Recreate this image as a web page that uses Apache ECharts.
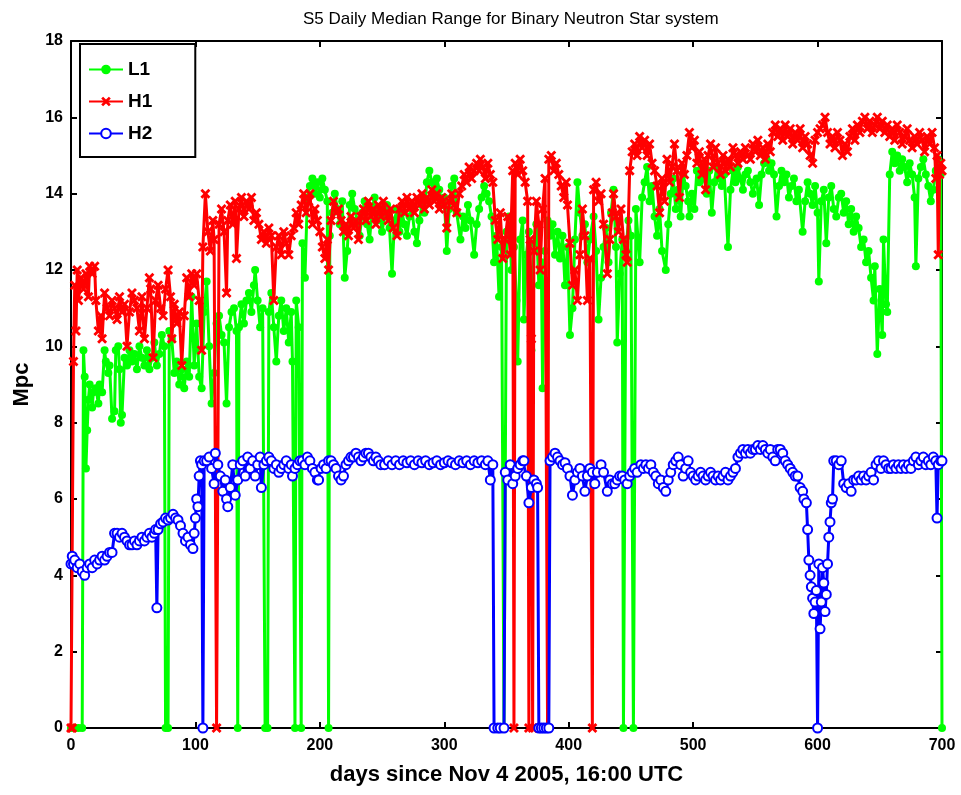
<!DOCTYPE html>
<html>
<head>
<meta charset="utf-8">
<title>S5 Daily Median Range</title>
<script src="https://cdn.jsdelivr.net/npm/echarts@6/dist/echarts.min.js"></script>
<style>
  html, body { margin: 0; padding: 0; background: #fff; }
  #chart { width: 961px; height: 795px; }
</style>
</head>
<body>
<div id="chart"></div>
<script>
// [day, Mpc]; 0 marks days with no data
const l1Data = [
  [0,0],[3,0],[6,0],[9,0],[10,9.9],[11,9.2],[12,6.8],[13,7.8],[14,8.6],[15,9.0],[17,8.4],[18,8.8],[20,8.9],[22,8.5],[23,9.0],[25,8.8],[27,9.9],[28,9.6],[30,9.3],[31,9.5],[33,8.1],[35,8.3],[36,9.9],[38,10.0],[39,9.4],[40,8.0],[41,8.2],[43,9.7],[45,9.5],[47,9.9],[49,9.6],[51,9.8],[53,9.4],[55,10.0],[57,9.7],[59,9.5],[61,9.9],[63,9.4],[65,9.7],[67,10.1],[69,9.5],[71,9.8],[73,10.3],[75,10.0],[76,0],[78,0],[79,10.4],[81,10.2],[83,9.3],[85,9.6],[87,9.0],[89,9.4],[91,8.9],[93,9.6],[95,9.2],[97,11.3],[99,9.5],[101,10.6],[103,9.2],[105,8.9],[107,10.9],[109,11.7],[111,10.0],[113,8.5],[115,9.3],[117,10.6],[119,10.8],[121,10.3],[123,10.1],[125,8.5],[127,10.5],[129,10.9],[131,11.0],[133,10.4],[134,0],[135,10.5],[137,11.1],[139,10.6],[141,11.2],[143,11.4],[145,10.9],[147,11.6],[148,12.0],[150,11.2],[152,10.5],[154,11.0],[156,0],[158,0],[159,10.9],[161,11.4],[163,10.5],[165,9.6],[167,10.8],[169,11.2],[171,10.4],[173,11.0],[175,10.1],[177,10.9],[178,9.6],[180,0],[181,11.2],[183,10.5],[185,0],[186,12.7],[188,11.8],[190,13.9],[192,14.2],[194,14.4],[196,14.0],[198,14.3],[200,13.9],[202,14.4],[204,14.1],[206,13.8],[207,0],[208,12.9],[210,13.5],[212,14.0],[214,13.6],[216,13.2],[218,13.8],[220,11.8],[222,12.5],[224,13.7],[226,14.0],[228,13.6],[230,13.3],[232,12.9],[234,13.5],[236,13.8],[238,13.2],[240,12.8],[242,13.6],[244,13.9],[246,13.3],[248,13.6],[250,13.0],[252,13.4],[254,13.7],[256,13.1],[258,11.9],[260,13.3],[262,13.6],[264,13.0],[266,13.5],[268,13.2],[270,12.9],[272,13.4],[274,13.6],[276,13.0],[278,12.7],[280,13.3],[282,13.7],[284,13.5],[286,14.3],[288,14.6],[290,14.3],[292,13.9],[294,14.4],[296,14.1],[298,13.7],[300,13.9],[302,12.5],[304,13.6],[306,14.2],[308,14.4],[310,13.5],[313,12.8],[315,13.4],[317,13.1],[319,13.7],[321,13.3],[324,12.4],[326,13.2],[328,13.6],[330,13.9],[332,14.2],[334,14.0],[336,13.8],[338,13.4],[340,12.2],[342,12.9],[344,11.3],[346,12.6],[348,0],[350,13.0],[352,13.4],[354,12.0],[356,12.6],[358,11.2],[359,9.6],[361,12.8],[363,13.3],[364,10.7],[366,12.4],[368,13.0],[370,9.9],[372,12.7],[374,13.2],[376,11.6],[378,12.2],[379,8.9],[381,12.5],[383,13.3],[385,12.9],[387,13.2],[389,12.4],[391,13.0],[393,12.3],[395,12.9],[397,11.6],[399,12.6],[401,10.3],[403,11.0],[405,12.8],[407,14.3],[409,13.5],[411,12.9],[413,13.2],[415,12.2],[417,12.8],[420,13.4],[422,12.5],[424,10.7],[426,11.8],[428,12.6],[430,13.1],[432,12.2],[434,13.5],[436,14.1],[438,12.6],[439,10.1],[441,11.9],[443,12.8],[444,0],[446,12.5],[448,13.3],[450,12.9],[452,0],[454,13.6],[457,12.2],[459,13.9],[461,14.3],[463,14.7],[465,13.8],[467,14.2],[469,13.4],[471,12.9],[473,13.6],[475,12.5],[478,12.0],[480,13.2],[482,14.0],[484,14.4],[486,13.6],[488,14.1],[490,13.4],[492,14.5],[494,14.2],[496,13.8],[497,13.4],[499,14.0],[501,13.6],[503,14.6],[505,14.3],[507,14.7],[509,14.4],[511,14.0],[513,14.6],[515,13.5],[517,14.3],[519,14.7],[521,14.4],[523,14.2],[525,14.5],[528,12.6],[530,14.1],[532,14.6],[534,14.3],[536,14.7],[538,14.4],[540,14.1],[542,14.5],[544,14.6],[546,14.3],[548,14.0],[551,14.4],[553,13.7],[555,14.5],[557,14.8],[559,14.9],[561,14.6],[563,14.8],[565,14.5],[567,13.4],[569,14.2],[571,14.6],[573,14.3],[575,14.5],[577,13.9],[579,14.2],[581,14.4],[583,13.8],[585,14.1],[588,13.0],[590,13.8],[592,14.3],[594,14.0],[596,13.7],[598,14.2],[600,13.5],[601,11.7],[603,13.8],[605,14.1],[607,12.7],[609,13.9],[611,14.2],[613,13.6],[615,13.4],[617,13.9],[619,14.0],[621,13.5],[623,13.8],[625,13.2],[627,13.6],[629,13.0],[631,13.4],[633,13.1],[635,12.6],[637,12.8],[639,12.2],[641,12.5],[643,11.8],[645,11.2],[646,12.1],[648,9.8],[650,11.5],[652,10.3],[653,12.8],[655,11.1],[656,10.9],[658,14.5],[660,15.1],[662,14.8],[664,15.0],[666,14.6],[668,14.9],[670,14.7],[672,14.3],[674,14.8],[676,14.5],[678,13.9],[679,12.1],[681,14.4],[683,14.7],[685,14.9],[687,14.5],[689,14.2],[691,13.8],[693,14.1],[695,14.6],[697,14.9],[699,14.5],[700,0]
];

const h1Data = [
  [0,0],[1,0],[2,9.6],[3,11.6],[4,10.4],[5,12.0],[6,11.2],[8,11.8],[10,11.5],[12,11.9],[14,11.3],[15,12.1],[17,11.9],[19,12.1],[20,11.2],[22,10.4],[24,10.8],[25,10.2],[27,11.4],[29,11.0],[31,10.8],[33,11.2],[35,11.0],[37,10.7],[39,11.3],[41,10.9],[43,11.1],[45,10.0],[47,10.9],[49,11.4],[51,11.2],[53,11.0],[55,10.4],[57,11.3],[59,10.2],[61,11.0],[63,11.8],[64,11.5],[66,9.7],[68,11.2],[70,11.6],[72,11.0],[74,10.8],[76,11.5],[78,12.0],[80,11.3],[81,10.2],[83,11.1],[85,10.6],[87,10.9],[89,9.5],[91,10.8],[93,11.8],[95,11.3],[97,11.9],[99,11.6],[101,11.9],[103,11.2],[105,9.9],[106,12.6],[108,14.0],[110,13.0],[112,12.5],[114,13.3],[115,12.8],[117,0],[119,13.2],[121,13.6],[123,13.0],[125,11.4],[126,13.3],[128,13.7],[130,13.2],[132,13.8],[133,12.3],[135,13.6],[137,13.9],[139,13.4],[141,13.8],[143,13.6],[145,13.9],[147,13.3],[149,13.5],[151,13.2],[153,12.8],[155,13.0],[157,12.7],[159,13.1],[161,12.9],[163,11.2],[165,12.6],[167,12.9],[169,12.4],[171,13.0],[173,12.7],[175,12.4],[177,12.9],[179,13.1],[181,13.5],[183,13.2],[185,13.7],[187,14.0],[189,13.5],[191,13.8],[192,14.0],[194,13.2],[196,13.6],[198,13.3],[200,13.0],[202,12.6],[204,12.3],[206,12.8],[207,12.0],[209,13.3],[211,13.8],[213,13.5],[215,13.6],[217,13.3],[219,13.0],[221,13.2],[223,12.9],[225,13.4],[227,13.1],[229,13.3],[231,12.8],[233,13.4],[235,13.6],[237,13.3],[239,13.8],[241,13.4],[243,13.6],[245,13.2],[247,13.7],[249,13.4],[251,13.8],[253,13.5],[255,13.3],[257,13.6],[259,13.1],[262,12.9],[264,13.6],[266,13.8],[268,13.5],[270,13.9],[272,13.6],[274,13.8],[276,13.5],[278,13.9],[280,13.7],[282,14.0],[284,13.6],[286,13.9],[288,13.7],[290,14.1],[292,13.8],[294,14.0],[296,13.6],[298,13.9],[300,13.7],[302,13.1],[304,13.8],[306,14.0],[308,13.7],[310,13.5],[312,14.0],[314,14.2],[316,14.5],[318,14.3],[320,14.7],[322,14.4],[324,14.6],[326,14.8],[328,14.6],[329,14.9],[331,14.7],[333,14.4],[335,14.8],[337,14.5],[339,14.3],[341,13.3],[343,12.8],[345,13.5],[347,12.3],[349,12.8],[351,13.4],[353,12.4],[355,14.6],[356,0],[357,14.8],[359,14.5],[361,14.9],[363,14.6],[365,14.3],[367,13.8],[368,0],[369,12.8],[370,10.2],[371,0],[372,12.5],[374,13.8],[376,13.2],[377,12.0],[379,13.6],[381,14.4],[383,0],[384,14.9],[386,15.0],[388,14.6],[390,14.8],[392,14.5],[394,14.2],[396,13.9],[398,14.3],[399,13.7],[401,12.7],[403,11.6],[405,12.0],[407,11.2],[409,12.4],[411,13.6],[413,12.9],[415,11.2],[417,12.3],[419,0],[420,14.1],[422,14.3],[424,13.8],[426,14.0],[428,13.2],[431,11.9],[433,12.8],[435,13.5],[436,14.0],[438,13.4],[440,13.0],[442,13.6],[444,12.8],[446,12.4],[447,12.2],[449,14.6],[451,15.1],[453,15.3],[455,15.0],[457,15.5],[459,15.2],[461,15.4],[463,15.0],[465,15.3],[467,14.8],[469,14.6],[471,14.2],[473,13.5],[475,14.4],[477,13.8],[479,14.9],[481,14.3],[483,14.7],[485,15.3],[487,14.6],[489,13.9],[491,14.8],[493,14.5],[495,15.0],[497,15.6],[499,15.2],[501,15.4],[503,14.8],[505,15.1],[507,14.5],[509,14.9],[510,14.1],[512,15.0],[514,15.3],[516,14.7],[518,15.2],[520,14.8],[522,14.5],[524,15.0],[526,14.6],[528,14.9],[530,14.7],[532,15.2],[534,15.0],[536,14.8],[538,15.1],[540,14.9],[542,15.2],[544,15.0],[546,14.9],[548,15.3],[550,15.1],[552,15.4],[554,15.0],[556,15.2],[558,14.9],[560,15.3],[562,15.1],[564,15.6],[566,15.8],[568,15.5],[570,15.7],[572,15.4],[574,15.8],[576,15.5],[578,15.7],[580,15.3],[582,15.6],[584,15.4],[586,15.7],[588,15.2],[590,15.5],[592,15.3],[594,15.0],[596,14.8],[598,15.4],[600,15.6],[602,15.7],[604,15.8],[606,16.0],[608,15.6],[610,15.3],[612,15.5],[614,15.2],[616,15.6],[618,15.4],[620,15.0],[622,15.3],[624,15.1],[626,15.5],[628,15.7],[630,15.4],[632,15.8],[634,15.6],[636,15.9],[638,16.0],[640,15.7],[642,15.9],[644,15.6],[646,15.8],[648,16.0],[650,15.7],[652,15.9],[654,15.6],[656,15.8],[658,15.5],[660,15.7],[662,15.4],[664,15.8],[666,15.6],[668,15.3],[670,15.5],[672,15.7],[674,15.4],[676,15.2],[678,15.5],[680,15.3],[682,15.6],[684,15.4],[686,15.1],[688,15.5],[690,15.3],[692,15.6],[694,15.2],[695,14.4],[696,15.0],[697,12.4],[698,14.5],[699,14.8],[700,14.6]
];

const h2Data = [
  [0,4.3],[1,4.5],[2,4.3],[3,4.4],[5,4.2],[7,4.3],[9,4.1],[11,4.0],[13,4.2],[15,4.3],[17,4.2],[19,4.4],[21,4.3],[23,4.4],[25,4.5],[27,4.4],[29,4.5],[31,4.6],[33,4.6],[35,5.1],[37,5.1],[39,5.0],[41,5.1],[43,5.0],[45,4.9],[47,4.8],[49,4.8],[51,4.9],[53,4.8],[55,4.9],[57,5.0],[59,4.9],[61,5.0],[63,5.1],[65,5.0],[67,5.1],[68,5.2],[69,3.15],[70,5.2],[72,5.35],[74,5.4],[76,5.5],[78,5.45],[80,5.5],[82,5.6],[84,5.5],[86,5.45],[88,5.3],[90,5.1],[92,4.9],[94,5.0],[96,4.8],[98,4.7],[99,5.1],[100,5.5],[101,6.0],[102,5.8],[103,6.6],[104,7.0],[105,6.9],[106,0],[107,7.0],[109,7.0],[111,7.1],[113,6.8],[115,6.4],[116,7.2],[118,6.9],[120,6.6],[122,6.2],[124,6.5],[125,6.0],[126,5.8],[128,6.3],[130,6.9],[132,6.1],[134,6.5],[136,6.9],[138,7.0],[140,6.6],[142,7.1],[144,6.8],[146,7.0],[148,6.6],[150,6.9],[152,7.1],[153,6.3],[155,6.9],[157,7.0],[159,7.1],[161,7.0],[163,6.8],[165,6.9],[167,6.7],[169,6.8],[171,6.9],[173,7.0],[175,6.8],[177,6.9],[178,6.6],[180,6.8],[182,6.9],[184,7.0],[186,7.0],[188,6.9],[190,7.1],[192,7.0],[194,6.8],[196,6.7],[198,6.5],[199,6.5],[201,6.8],[203,6.9],[205,6.8],[207,7.0],[209,7.0],[211,6.9],[213,6.8],[215,6.6],[217,6.5],[219,6.6],[221,6.9],[223,7.0],[225,7.1],[227,7.1],[229,7.2],[231,7.1],[233,7.0],[235,7.1],[237,7.2],[239,7.2],[241,7.1],[243,7.0],[245,7.1],[247,7.0],[249,6.9],[252,6.9],[255,7.0],[258,6.9],[261,7.0],[264,6.9],[267,7.0],[270,6.95],[273,7.0],[276,6.9],[279,7.0],[282,6.95],[285,7.0],[288,6.9],[291,6.95],[294,7.0],[297,6.9],[300,6.95],[303,7.0],[306,6.95],[309,6.9],[312,7.0],[315,6.95],[318,7.0],[321,6.9],[324,7.0],[327,6.95],[330,7.0],[333,6.9],[335,7.0],[337,6.5],[339,6.9],[340,0],[343,0],[345,0],[348,0],[349,6.7],[351,6.5],[353,6.9],[355,6.4],[357,6.6],[359,6.8],[361,6.9],[363,7.0],[364,7.0],[366,6.6],[368,5.9],[370,6.3],[372,6.5],[374,6.4],[375,6.3],[376,0],[378,0],[380,0],[382,0],[384,0],[385,7.0],[387,7.1],[389,7.2],[391,7.1],[393,7.0],[395,6.9],[397,6.95],[399,6.8],[401,6.6],[403,6.1],[405,6.5],[407,6.7],[409,6.8],[411,6.6],[413,6.2],[415,6.6],[417,6.8],[419,6.7],[421,6.4],[423,6.7],[426,6.9],[428,6.7],[431,6.2],[433,6.5],[435,6.4],[437,6.4],[439,6.5],[441,6.6],[443,6.6],[445,6.5],[447,6.4],[449,6.6],[451,6.7],[453,6.8],[455,6.7],[458,6.9],[460,6.8],[462,6.9],[464,6.8],[466,6.9],[468,6.7],[470,6.6],[472,6.4],[474,6.5],[476,6.3],[478,6.2],[480,6.5],[482,6.7],[484,6.9],[486,7.0],[488,7.1],[490,6.9],[492,6.6],[494,6.8],[496,7.0],[498,6.7],[500,6.6],[502,6.5],[504,6.6],[506,6.7],[508,6.6],[510,6.5],[512,6.6],[514,6.7],[516,6.6],[518,6.5],[520,6.6],[522,6.5],[524,6.6],[526,6.7],[528,6.5],[530,6.6],[532,6.7],[534,6.8],[536,7.1],[538,7.2],[540,7.3],[542,7.2],[544,7.3],[546,7.2],[548,7.3],[550,7.3],[552,7.4],[554,7.3],[556,7.4],[558,7.3],[560,7.2],[562,7.3],[564,7.1],[566,7.0],[568,7.3],[570,7.3],[572,7.2],[574,7.0],[576,6.9],[578,6.8],[580,6.7],[582,6.6],[584,6.6],[586,6.3],[588,6.2],[589,6.0],[591,5.9],[592,5.2],[593,4.4],[594,4.0],[595,3.7],[596,3.4],[597,3.0],[598,3.3],[599,3.6],[600,0],[601,4.3],[602,2.6],[603,3.3],[604,4.2],[605,3.8],[606,3.05],[607,3.5],[608,4.3],[609,5.0],[610,5.4],[611,5.9],[612,6.0],[613,7.0],[615,7.0],[617,6.9],[619,7.0],[621,6.4],[623,6.3],[625,6.4],[627,6.2],[629,6.5],[631,6.5],[633,6.6],[635,6.5],[637,6.6],[639,6.5],[641,6.6],[643,6.7],[645,6.5],[647,6.9],[649,7.0],[651,6.8],[653,7.0],[655,6.9],[657,6.8],[659,6.8],[661,6.9],[663,6.8],[665,6.9],[667,6.8],[669,6.9],[671,6.8],[673,6.9],[675,6.8],[677,7.0],[679,7.1],[681,6.9],[683,7.0],[685,7.1],[687,6.9],[689,7.0],[691,6.9],[693,7.1],[695,7.0],[696,5.5],[697,6.9],[699,7.0],[700,7.0]
];

const seriesNames = ["L1", "H1", "H2"];
const seriesColors = ["#00ff00", "#ff0000", "#0000ff"];

const FONT = "'Liberation Sans', Arial, Helvetica, sans-serif";
const X_SYMBOL = "path://M2,0 L5,3 L8,0 L10,2 L7,5 L10,8 L8,10 L5,7 L2,10 L0,8 L3,5 L0,2 Z";

const chart = echarts.init(document.getElementById("chart"));

// plain axes drawn on the top and right so the plot gets a closed box with ticks
function frameAxis(pos, max, interval) {
  return {
    type: "value",
    position: pos,
    min: 0,
    max: max,
    interval: interval,
    axisLine: { show: true, onZero: false, lineStyle: { color: "#000", width: 2 } },
    axisTick: { show: true, inside: true, length: 6, lineStyle: { color: "#000", width: 2 } },
    axisLabel: { show: false },
    splitLine: { show: false },
  };
}

const option = {
  animation: false,
  backgroundColor: "#fff",
  title: {
    text: "S5 Daily Median Range for Binary Neutron Star system",
    left: 298,
    top: 6,
    textStyle: { fontFamily: FONT, fontSize: 17, fontWeight: "normal", color: "#000" },
  },
  grid: { left: 71, right: 19, top: 41, bottom: 67 },
  legend: {
    orient: "vertical",
    left: 80,
    top: 44,
    itemWidth: 34,
    itemHeight: 12,
    itemGap: 13,
    padding: [16, 43, 14, 8],
    borderColor: "#000",
    borderWidth: 2,
    backgroundColor: "#fff",
    textStyle: { fontFamily: FONT, fontSize: 19, fontWeight: "bold", color: "#000" },
    data: seriesNames,
  },
  xAxis: [
    {
      type: "value",
      min: 0,
      max: 700,
      interval: 100,
      name: "days since Nov 4 2005, 16:00 UTC",
      nameLocation: "middle",
      nameGap: 36,
      nameTextStyle: { fontFamily: FONT, fontSize: 22, fontWeight: "bold", color: "#000" },
      axisLine: { show: true, onZero: false, lineStyle: { color: "#000", width: 2 } },
      axisTick: { show: true, inside: true, length: 6, lineStyle: { color: "#000", width: 2 } },
      axisLabel: { fontFamily: FONT, fontSize: 16, fontWeight: "bold", color: "#000", margin: 10 },
      splitLine: { show: false },
    },
    frameAxis("top", 700, 100),
  ],
  yAxis: [
    {
      type: "value",
      min: 0,
      max: 18,
      interval: 2,
      name: "Mpc",
      nameLocation: "middle",
      nameGap: 38,
      nameTextStyle: { fontFamily: FONT, fontSize: 22, fontWeight: "bold", color: "#000" },
      axisLine: { show: true, onZero: false, lineStyle: { color: "#000", width: 2 } },
      axisTick: { show: true, inside: true, length: 6, lineStyle: { color: "#000", width: 2 } },
      axisLabel: { fontFamily: FONT, fontSize: 16, fontWeight: "bold", color: "#000", margin: 8 },
      splitLine: { show: false },
    },
    frameAxis("right", 18, 2),
  ],
  series: [
    {
      name: "L1",
      type: "line",
      data: l1Data,
      color: seriesColors[0],
      symbol: "circle",
      symbolSize: 8,
      showAllSymbol: true,
      lineStyle: { width: 3 },
      z: 2,
    },
    {
      name: "H1",
      type: "line",
      data: h1Data,
      color: seriesColors[1],
      symbol: X_SYMBOL,
      symbolSize: 10,
      showAllSymbol: true,
      lineStyle: { width: 3 },
      z: 3,
    },
    {
      name: "H2",
      type: "line",
      data: h2Data,
      color: seriesColors[2],
      symbol: "emptyCircle",
      symbolSize: 9,
      showAllSymbol: true,
      itemStyle: { borderWidth: 2 },
      lineStyle: { width: 3 },
      z: 4,
    },
  ],
};

chart.setOption(option);
</script>
</body>
</html>
